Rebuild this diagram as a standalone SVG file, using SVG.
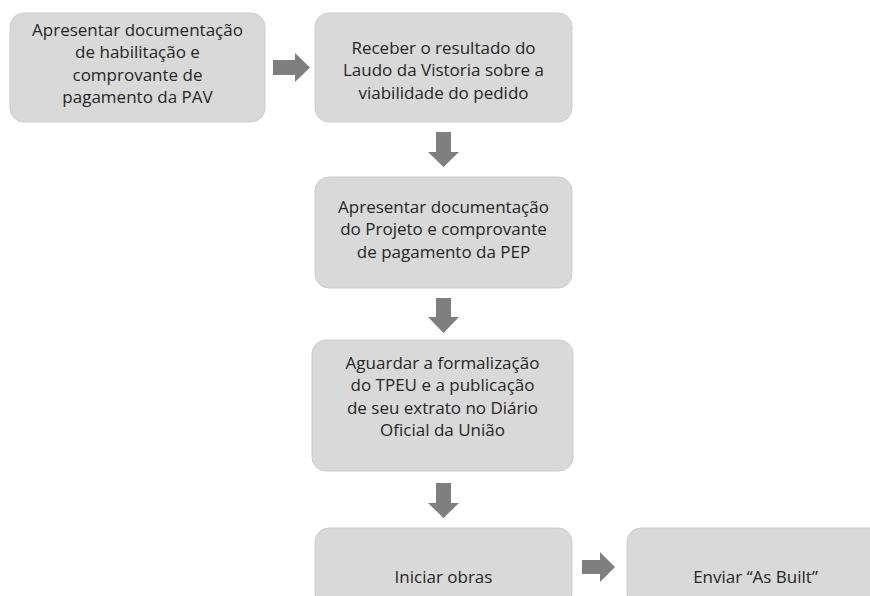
<svg xmlns="http://www.w3.org/2000/svg" width="870" height="596" viewBox="0 0 870 596">
<style>
.box{fill:#d9d9d9;stroke:#cdcdcd;stroke-width:1}
.t{font-family:"Open Sans","Liberation Sans",sans-serif;font-size:17px;fill:#262626;text-anchor:middle}
.arr{fill:#7f7f7f}
</style>
<rect width="870" height="596" fill="#ffffff"/>
<g id="n1">
<rect class="box" x="10" y="13" width="255" height="109" rx="14"/>
<text class="t"><tspan x="137.5" y="35.5">Apresentar documentação</tspan><tspan x="137.5" y="58">de habilitação e</tspan><tspan x="137.5" y="80.5">comprovante de</tspan><tspan x="137.5" y="103">pagamento da PAV</tspan></text>
</g>
<g id="n2">
<rect class="box" x="315" y="13" width="257" height="109" rx="14"/>
<text class="t"><tspan x="443.5" y="53.5">Receber o resultado do</tspan><tspan x="443.5" y="76">Laudo da Vistoria sobre a</tspan><tspan x="443.5" y="98.5">viabilidade do pedido</tspan></text>
</g>
<g id="n3">
<rect class="box" x="315" y="177" width="257" height="111" rx="14"/>
<text class="t"><tspan x="443.5" y="212.5">Apresentar documentação</tspan><tspan x="443.5" y="235">do Projeto e comprovante</tspan><tspan x="443.5" y="257.5">de pagamento da PEP</tspan></text>
</g>
<g id="n4">
<rect class="box" x="312" y="340" width="261" height="131" rx="14"/>
<text class="t"><tspan x="442.5" y="368.75">Aguardar a formalização</tspan><tspan x="442.5" y="391.25">do TPEU e a publicação</tspan><tspan x="442.5" y="413.75">de seu extrato no Diário</tspan><tspan x="442.5" y="436.25">Oficial da União</tspan></text>
</g>
<g id="n5">
<rect class="box" x="315" y="528" width="257" height="80" rx="14"/>
<text class="t" x="443.5" y="583">Iniciar obras</text>
</g>
<g id="n6">
<rect class="box" x="627" y="528" width="257" height="80" rx="14"/>
<text class="t" x="755.5" y="583">Enviar “As Built”</text>
</g>
<g id="connectors">
<path class="arr" d="M273,60 H295 V53 L310,67.5 L295,82 V75 H273 Z"/>
<path class="arr" d="M436,132 H451 V152 H459 L443.5,167 L428,152 H436 Z"/>
<path class="arr" d="M436,298 H451 V317 H459 L443.5,333 L428,317 H436 Z"/>
<path class="arr" d="M436,483 H451 V503 H459 L443.5,518 L428,503 H436 Z"/>
<path class="arr" d="M582,560 H600 V552 L615,567 L600,582 V574 H582 Z"/>
</g>
</svg>
